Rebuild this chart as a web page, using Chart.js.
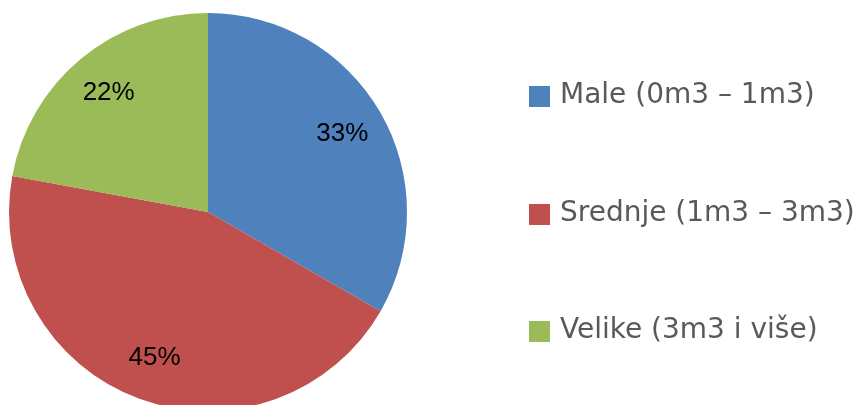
<!DOCTYPE html>
<html>
<head>
<meta charset="utf-8">
<script src="https://cdn.jsdelivr.net/npm/chart.js@4"></script>
<style>
    html, body { margin: 0; padding: 0; background: #fff; overflow: hidden; }
    #wrap { position: relative; width: 859px; height: 424px; }
    #legend { position: absolute; left: 529px; top: 0; font-family: "DejaVu Sans", sans-serif; font-size: 28px; color: #595959; }
    .legend-item { position: absolute; left: 0; white-space: nowrap; height: 34px; line-height: 34px; }
    .legend-box { position: absolute; left: 0; top: 9px; width: 21px; height: 21px; }
    .legend-text { position: absolute; left: 31px; top: 0; }
</style>
</head>
<body>
<div id="wrap">
    <canvas id="pieChart"></canvas>
    <div id="legend"></div>
</div>
<script>
// Chart data
const categories = ['Male (0m3 – 1m3)', 'Srednje (1m3 – 3m3)', 'Velike (3m3 i više)'];
const shares = [33.3, 44.6, 22.1];
const sliceColors = ['#4F81BD', '#C0504D', '#9BBB59'];

// Draw percentage labels inside slices
const percentLabels = {
    id: 'percentLabels',
    afterDatasetsDraw(chart) {
        const ctx = chart.ctx;
        const meta = chart.getDatasetMeta(0);
        const total = shares.reduce((a, b) => a + b, 0);
        ctx.save();
        ctx.font = '26px "Liberation Sans", sans-serif';
        ctx.fillStyle = '#000';
        ctx.textAlign = 'center';
        ctx.textBaseline = 'middle';
        meta.data.forEach((arc, i) => {
            const p = arc.getProps(['x', 'y', 'startAngle', 'endAngle', 'outerRadius']);
            const mid = (p.startAngle + p.endAngle) / 2;
            const r = p.outerRadius * 0.78;
            const text = Math.round(shares[i] / total * 100) + '%';
            ctx.fillText(text, p.x + Math.cos(mid) * r, p.y + Math.sin(mid) * r);
        });
        ctx.restore();
    }
};

document.addEventListener('DOMContentLoaded', function() {
    const canvas = document.getElementById('pieChart');
    canvas.width = 859;
    canvas.height = 424;

    new Chart(canvas.getContext('2d'), {
        type: 'pie',
        data: {
            labels: categories,
            datasets: [{
                data: shares,
                backgroundColor: sliceColors,
                borderWidth: 0,
                hoverBorderWidth: 0,
                hoverOffset: 0
            }]
        },
        options: {
            responsive: false,
            animation: false,
            events: [],
            layout: {
                padding: { left: 9, right: 452, top: 13, bottom: 13 }
            },
            plugins: {
                legend: { display: false },
                tooltip: { enabled: false }
            }
        },
        plugins: [percentLabels]
    });

    // Build legend
    const legend = document.getElementById('legend');
    categories.forEach((name, i) => {
        const item = document.createElement('div');
        item.className = 'legend-item';
        item.style.top = (77 + i * 117.5) + 'px';
        item.innerHTML = '<span class="legend-box" style="background:' + sliceColors[i] + '"></span>' +
            '<span class="legend-text">' + name + '</span>';
        legend.appendChild(item);
    });
});
</script>
</body>
</html>
